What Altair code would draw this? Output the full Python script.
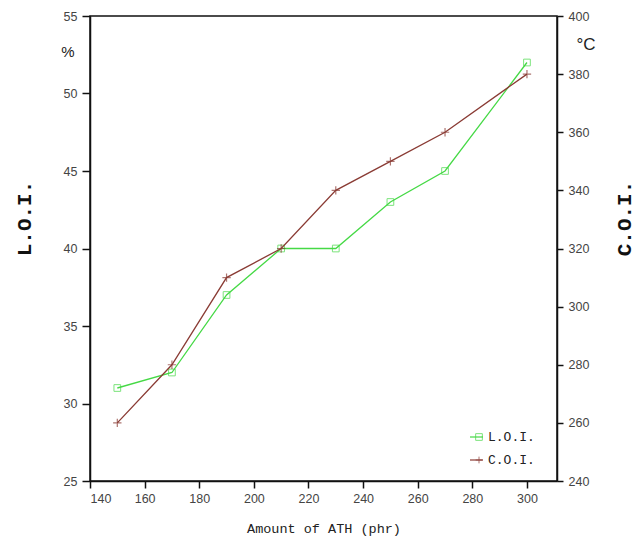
import altair as alt
import pandas as pd

ath = [150, 170, 190, 210, 230, 250, 270, 300]
loi = [31, 32, 37, 40, 40, 43, 45, 52]
coi = [260, 280, 310, 320, 340, 350, 360, 380]
series = ["L.O.I.", "C.O.I."]
x_ticks = [140, 160, 180, 200, 220, 240, 260, 280, 300]
loi_ticks = [25, 30, 35, 40, 45, 50, 55]
coi_ticks = [240, 260, 280, 300, 320, 340, 360, 380, 400]

GREEN = "#45d945"
BROWN = "#8a3b34"
LABEL_FONT = "Liberation Sans"
MONO = "Liberation Mono"

df = pd.DataFrame({"ath": ath, "loi": loi, "coi": coi})

x = alt.X("ath:Q", scale=alt.Scale(domain=[140, 311], nice=False, zero=False),
          axis=alt.Axis(values=x_ticks, title="Amount of ATH (phr)", grid=False,
                        tickSize=7, domain=True, labelPadding=4,
                        titleFont=MONO, titleFontSize=13.5, titleFontWeight="normal",
                        titleColor="#222", titleBaseline="middle", titleY=47))

y_loi = alt.Y("loi:Q", scale=alt.Scale(domain=[25, 55], nice=False, zero=False),
              axis=alt.Axis(values=loi_ticks, title="L.O.I.", grid=False, tickSize=8,
                            orient="left", labelPadding=5,
                            titleFont=MONO, titleFontSize=21, titleFontWeight=600,
                            titleColor="#111", titleAngle=270, titleBaseline="middle",
                            titleAlign="center", titleX=-66, titleY=202))
y_coi = alt.Y("coi:Q", scale=alt.Scale(domain=[240, 400], nice=False, zero=False),
              axis=alt.Axis(values=coi_ticks, title="C.O.I.", grid=False, tickSize=6,
                            orient="right", labelPadding=5,
                            titleFont=MONO, titleFontSize=21, titleFontWeight=600,
                            titleColor="#111", titleAngle=270, titleBaseline="middle",
                            titleAlign="center", titleX=67, titleY=202))

loi_line = alt.Chart(df).mark_line(color=GREEN, strokeWidth=1.3).encode(x=x, y=y_loi)
loi_pts = alt.Chart(df).mark_point(shape="square", filled=False, color=GREEN,
                                   size=45, strokeWidth=1).encode(x=x, y=y_loi)
coi_line = alt.Chart(df).mark_line(color=BROWN, strokeWidth=1.3).encode(x=x, y=y_coi)
coi_pts = alt.Chart(df).mark_point(shape="M-1,0H1M0,-1V1", filled=False, color=BROWN,
                                   size=70, strokeWidth=1.2).encode(x=x, y=y_coi)

# legend (inside, bottom right)
leg = pd.DataFrame({"label": series})
leg_loi = leg[leg.label == series[0]]
leg_coi = leg[leg.label == series[1]]

def legend_row(d, color, shape, ypix):
    r = alt.Chart(d).mark_rule(color=color, strokeWidth=1.2).encode(
        x=alt.value(380), x2=alt.value(393), y=alt.value(ypix))
    p = alt.Chart(d).mark_point(shape=shape, filled=False, color=color, size=45,
                                strokeWidth=1).encode(x=alt.value(389), y=alt.value(ypix))
    t = alt.Chart(d).mark_text(align="left", baseline="middle", font=MONO, fontSize=13,
                               color="#222").encode(x=alt.value(398), y=alt.value(ypix),
                                                    text="label:N")
    return r + p + t

legend_loi = legend_row(leg_loi, GREEN, "square", 421)
legend_coi = legend_row(leg_coi, BROWN, "M-1,0H1M0,-1V1", 444)

units = pd.DataFrame({"u": ["%", "°C"]})
pct = alt.Chart(units[units.u == "%"]).mark_text(fontSize=15, font=LABEL_FONT, color="#222",
                                                 align="center", baseline="middle").encode(
    x=alt.value(-22), y=alt.value(36), text="u:N")
degc = alt.Chart(units[units.u == "°C"]).mark_text(fontSize=17, font=LABEL_FONT, color="#222",
                                                   align="center", baseline="middle").encode(
    x=alt.value(496), y=alt.value(29), text="u:N")

left = alt.layer(loi_line, loi_pts)
right = alt.layer(coi_line, coi_pts)

chart = alt.layer(left, right, legend_loi, legend_coi, pct, degc).resolve_scale(
    y="independent"
).properties(
    width=467, height=465,
    autosize=alt.AutoSizeParams(type="none"),
    padding={"left": 90, "top": 16, "right": 81, "bottom": 61},
    background="white",
).configure_view(
    stroke="#111", strokeWidth=1.5
).configure_axis(
    domainColor="#111", domainWidth=1.5, tickColor="#111", tickWidth=1.5,
    labelFont=LABEL_FONT, labelFontSize=12.5, labelColor="#444",
)

chart.save("out.html", embed_options={"renderer": "svg", "actions": False})
